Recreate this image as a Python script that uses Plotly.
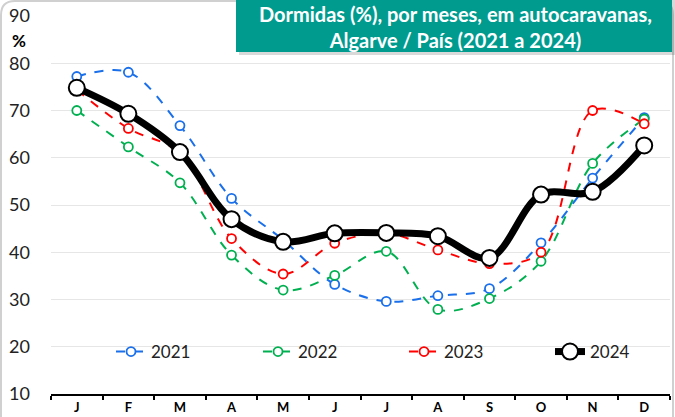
import plotly.graph_objects as go

months = ["J", "F", "M", "A", "M ", "J ", "J  ", "A ", "S", "O", "N", "D"]
tick_text = ["J", "F", "M", "A", "M", "J", "J", "A", "S", "O", "N", "D"]
v2021 = [77.2, 78.1, 66.8, 51.4, 42.6, 33.2, 29.6, 30.8, 32.3, 42.0, 55.7, 68.5]
v2022 = [70.0, 62.3, 54.7, 39.4, 32.0, 35.1, 40.2, 27.9, 30.2, 38.1, 58.8, 68.2]
v2023 = [74.4, 66.2, 61.0, 42.9, 35.4, 41.9, 44.0, 40.5, 37.6, 40.0, 70.0, 67.2]
v2024 = [74.8, 69.3, 61.2, 47.0, 42.2, 44.0, 44.1, 43.4, 38.8, 52.2, 52.8, 62.6]

FONT = "Lato"
# plot area in page pixels (page body margin removed by post_script)
PL, PR, PT, PB = 51, 670, 16, 394
W = PR - PL
H = PB - PT
MT, MB, ML, MR = PT, 417 - PB, PL, 675 - PR
def px(xs):
    return (xs - PL) / W
def py(ys):
    return (PB - ys) / H

fig = go.Figure()
series = [("2021", v2021, "#1A6FEA", "legend"), ("2022", v2022, "#00B050", "legend2"),
          ("2023", v2023, "#FF0000", "legend3")]
for name, vals, col, lg in series:
    fig.add_trace(go.Scatter(
        x=months, y=vals, name=name, mode="lines+markers", legend=lg,
        line=dict(color=col, width=2, dash="dash", shape="spline", smoothing=1.0),
        marker=dict(symbol="circle", size=9, color="white", line=dict(color=col, width=1.8)),
    ))
fig.add_trace(go.Scatter(
    x=months, y=v2024, name="2024", mode="lines+markers", legend="legend4",
    line=dict(color="black", width=7, shape="spline", smoothing=1.0),
    marker=dict(symbol="circle", size=16, color="white", line=dict(color="black", width=2)),
))

def leg(text_x):
    return dict(orientation="h", x=px(text_x - 42), y=py(352), xanchor="left", yanchor="middle",
                font=dict(size=17, family=FONT, color="#222222"), bgcolor="rgba(0,0,0,0)")

fig.update_layout(
    width=675, height=417,
    margin=dict(l=ML, r=MR, t=MT, b=MB, autoexpand=False),
    paper_bgcolor="white", plot_bgcolor="white",
    font=dict(family=FONT, color="#222222"),
    showlegend=True,
    legend=leg(153), legend2=leg(300), legend3=leg(446), legend4=leg(592),
    xaxis=dict(
        tickmode="array", tickvals=months, ticktext=["<b>%s</b>" % t for t in tick_text],
        tickson="boundaries", ticks="outside", ticklen=4, tickwidth=1.5, tickcolor="black",
        showline=True, linecolor="black", linewidth=2, showgrid=False, automargin=False,
        tickfont=dict(size=13, family=FONT, color="black"),
        range=[-0.5, 11.5], fixedrange=True,
    ),
    yaxis=dict(
        range=[10, 90], dtick=10, tick0=10, showgrid=True, gridcolor="#E6E6E6", gridwidth=1,
        showline=False, zeroline=False, ticks="", automargin=False,
        tickfont=dict(size=18, family=FONT, color="#222222"),
        ticklabelstandoff=20,
    ),
)

# % label
fig.add_annotation(xref="paper", yref="paper", x=px(19), y=py(40), text="<b>%</b>",
                   showarrow=False, font=dict(size=17, family=FONT, color="black"),
                   xanchor="center", yanchor="middle")

# title box
fig.add_shape(type="rect", xref="paper", yref="paper",
              x0=px(239), x1=px(676), y0=py(55), y1=py(-2),
              fillcolor="rgba(0,0,0,0.15)", line=dict(width=0), layer="above")
fig.add_shape(type="rect", xref="paper", yref="paper",
              x0=px(236), x1=px(672), y0=py(52), y1=py(-1),
              fillcolor="#009B8F", line=dict(width=0), layer="above")
fig.add_annotation(xref="paper", yref="paper", x=px(455), y=py(27),
                   text="<b>Dormidas (%), por meses, em autocaravanas,<br>Algarve / País (2021 a 2024)</b>",
                   showarrow=False, font=dict(size=20, family=FONT, color="white"),
                   align="center", xanchor="center", yanchor="middle")

# outer rounded border
r = 14
x0, y0, x1, y1 = 1, 1, 673, 440
def P(x, y):
    return "%f,%f" % (px(x), py(y))
path = ("M " + P(x0 + r, y0) + " L " + P(x1 - r, y0) + " Q " + P(x1, y0) + " " + P(x1, y0 + r) +
        " L " + P(x1, y1) + " L " + P(x0, y1) + " L " + P(x0, y0 + r) + " Q " + P(x0, y0) + " " + P(x0 + r, y0) + " Z")
fig.add_shape(type="path", xref="paper", yref="paper", path=path,
              line=dict(color="#D0D0D0", width=2), layer="below")

fig.write_html("out.html", config={"displayModeBar": False},
               post_script="document.body.style.margin='0';document.body.style.overflow='hidden';")
